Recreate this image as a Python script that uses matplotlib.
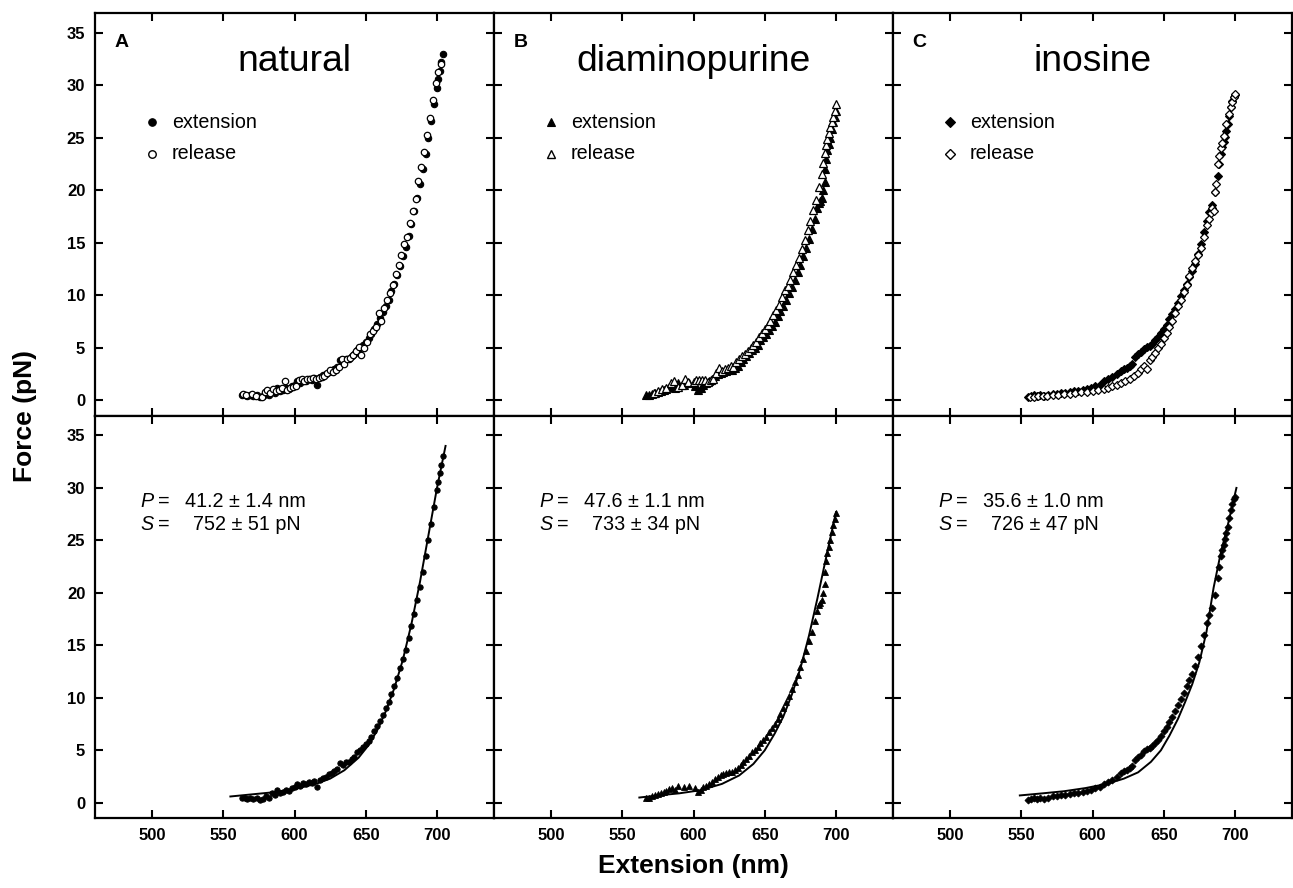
import matplotlib
matplotlib.use("Agg")
import matplotlib.pyplot as plt

plt.rcParams['font.family'] = ['Liberation Sans', 'DejaVu Sans']

# ---------------- data (extension in nm, force in pN) ----------------
nat_ext_x = [563, 565, 567, 569, 571, 574, 576, 578, 580, 582, 584, 586, 588, 590, 592, 594, 596, 598, 600, 602,
             604, 606, 608, 610, 612, 614, 616, 618, 620, 622, 624, 626, 628, 630, 632, 634, 636, 638, 640, 642,
             644, 646, 648, 650, 652, 654, 656, 658, 660, 662, 664, 666, 668, 670, 672, 674, 676, 678, 680, 682,
             684, 686, 688, 690, 692, 694, 696, 698, 700, 701, 702, 703, 704]
nat_ext_y = [0.5, 0.5, 0.4, 0.5, 0.4, 0.5, 0.3, 0.4, 0.6, 0.5, 0.9, 0.7, 1.2, 0.9, 1.0, 1.2, 1.1, 1.4, 1.5, 1.8,
             1.6, 1.9, 1.8, 2.0, 1.9, 2.1, 1.5, 2.2, 2.4, 2.5, 2.7, 2.8, 3.0, 3.2, 3.8, 3.6, 3.9, 3.9, 4.2, 4.4,
             4.8, 5.0, 5.3, 5.6, 5.9, 6.3, 6.8, 7.3, 7.8, 8.4, 9.0, 9.6, 10.4, 11.1, 11.9, 12.8, 13.7, 14.6, 15.7, 16.8,
             18.0, 19.3, 20.6, 22.0, 23.5, 25.0, 26.6, 28.2, 29.8, 30.6, 31.4, 32.2, 33.0]
nat_rel_x = [564, 566, 570, 573, 577, 579, 581, 583, 585, 587, 589, 591, 593, 595, 597, 599, 601, 603, 605, 607,
             609, 611, 613, 615, 617, 619, 621, 623, 625, 627, 629, 631, 633, 635, 637, 639, 641, 643, 645, 647,
             649, 651, 653, 655, 657, 659, 661, 663, 665, 667, 669, 671, 673, 675, 677, 679, 681, 683, 685, 687,
             689, 691, 693, 695, 697, 699, 701, 703]
nat_rel_y = [0.6, 0.5, 0.6, 0.4, 0.3, 0.8, 1.0, 0.7, 1.1, 0.9, 1.0, 1.2, 1.8, 1.0, 1.2, 1.3, 1.4, 1.9, 2.0, 1.8,
             2.0, 2.0, 2.1, 2.0, 2.1, 2.2, 2.3, 2.6, 2.9, 2.7, 2.9, 3.2, 3.9, 3.5, 3.9, 4.0, 4.3, 4.7, 5.1, 4.3,
             5.0, 5.6, 6.3, 6.6, 7.0, 8.3, 7.6, 8.8, 9.6, 10.2, 11.0, 12.0, 12.9, 13.8, 14.9, 15.6, 16.9, 18.0, 19.2, 20.9,
             22.2, 23.7, 25.3, 26.9, 28.6, 30.2, 31.3, 32.0]

dia_ext_x = [567, 569, 571, 573, 575, 577, 579, 581, 583, 585, 587, 589, 593, 597, 601, 603, 605, 607, 609, 611,
             613, 615, 617, 619, 621, 623, 625, 627, 629, 631, 633, 635, 637, 639, 641, 643, 645, 647, 649, 651,
             653, 655, 657, 659, 661, 663, 665, 667, 669, 671, 673, 675, 677, 679, 681, 683, 685, 687, 688, 689,
             690, 691, 692, 692.5, 693, 694, 695, 696, 697, 698, 699, 700]
dia_ext_y = [0.5, 0.5, 0.6, 0.7, 0.8, 0.9, 1.0, 1.1, 1.3, 1.4, 1.2, 1.6, 1.5, 1.6, 1.4, 1.0, 1.2, 1.5, 1.6, 1.8,
             2.0, 2.3, 2.5, 2.6, 2.7, 2.8, 2.9, 2.9, 3.1, 3.3, 3.6, 3.9, 4.2, 4.5, 4.8, 5.0, 5.3, 5.7, 6.0, 6.3,
             6.7, 7.1, 7.5, 8.0, 8.5, 9.0, 9.6, 10.2, 10.8, 11.5, 12.2, 12.9, 13.7, 14.5, 15.4, 16.3, 17.3, 18.3, 18.8, 19.0,
             19.3, 20.0, 20.8, 22.0, 23.0, 23.8, 24.4, 25.0, 25.8, 26.5, 27.0, 27.6]
dia_rel_x = [572, 575, 578, 581, 584, 586, 589, 592, 594, 596, 600, 602, 604, 606, 608, 610, 612, 614, 616, 618,
             620, 622, 624, 626, 628, 630, 632, 634, 636, 638, 640, 642, 644, 646, 648, 650, 652, 654, 656, 658,
             660, 662, 664, 666, 668, 670, 672, 674, 676, 678, 680, 682, 684, 686, 688, 690, 691, 692, 693, 694,
             695, 696, 697, 698, 699, 700]
dia_rel_y = [0.7, 0.9, 1.1, 1.2, 1.6, 1.8, 1.3, 1.5, 2.0, 1.7, 1.7, 1.9, 1.9, 1.9, 1.9, 1.7, 1.9, 2.0, 2.6, 3.1,
             2.8, 3.0, 3.1, 3.3, 3.2, 3.6, 3.9, 4.2, 4.4, 4.7, 5.0, 5.3, 5.6, 6.0, 6.4, 6.8, 7.2, 7.6, 8.1, 8.6,
             9.1, 9.8, 10.5, 10.9, 11.5, 12.2, 12.9, 13.6, 14.4, 15.3, 16.2, 17.1, 18.1, 19.1, 20.3, 21.6, 22.6, 23.6, 24.3, 24.9,
             25.5, 26.0, 26.5, 27.0, 27.6, 28.2]

ino_ext_x = [555, 557, 559, 561, 563, 566, 569, 572, 575, 578, 581, 584, 587, 590, 593, 596, 599, 602, 605, 608,
             611, 614, 617, 620, 622, 624, 626, 628, 630, 632, 634, 636, 638, 640, 642, 644, 646, 648, 650, 652,
             654, 656, 658, 660, 662, 664, 666, 668, 670, 672, 674, 676, 678, 680, 682, 684, 686, 688, 689, 690,
             691, 692, 693, 694, 695, 696, 697, 698, 699, 700]
ino_ext_y = [0.3, 0.4, 0.5, 0.4, 0.5, 0.4, 0.5, 0.6, 0.6, 0.7, 0.7, 0.8, 0.9, 0.9, 1.0, 1.1, 1.2, 1.4, 1.5, 1.8,
             2.0, 2.2, 2.5, 2.8, 3.0, 3.1, 3.3, 3.5, 4.1, 4.4, 4.6, 4.9, 5.1, 5.2, 5.4, 5.7, 6.0, 6.4, 6.8, 7.2,
             7.7, 8.2, 8.7, 9.3, 9.9, 10.5, 11.1, 11.7, 12.3, 13.0, 13.9, 14.9, 16.0, 17.1, 17.9, 18.6, 19.8, 21.4, 22.5, 23.5,
             24.1, 24.6, 25.1, 25.7, 26.3, 27.1, 27.9, 28.5, 28.9, 29.1]
ino_rel_x = [556, 559, 562, 565, 568, 572, 576, 580, 584, 588, 592, 596, 600, 604, 608, 611, 614, 617, 620, 623,
             626, 629, 632, 634, 636, 638, 640, 642, 644, 646, 648, 650, 652, 654, 656, 658, 660, 662, 664, 666,
             668, 670, 672, 674, 676, 678, 680, 682, 683, 684, 685, 686, 687, 688, 689, 690, 691, 692, 694, 696,
             697, 698, 699, 700]
ino_rel_y = [0.3, 0.3, 0.4, 0.4, 0.4, 0.5, 0.5, 0.6, 0.6, 0.7, 0.8, 0.8, 0.9, 1.0, 1.1, 1.2, 1.4, 1.5, 1.6, 1.8,
             2.0, 2.3, 2.6, 3.0, 3.3, 3.0, 3.8, 4.1, 4.5, 5.0, 5.4, 5.9, 6.4, 7.0, 7.6, 8.3, 9.0, 9.6, 10.3, 11.0,
             11.8, 12.6, 13.3, 13.8, 14.5, 15.6, 16.7, 17.3, 17.8, 18.3, 18.0, 19.8, 20.6, 22.5, 23.3, 24.0, 24.5, 25.2, 26.3, 27.3,
             27.9, 28.4, 28.9, 29.2]

fit_nat_x = [555, 570, 585, 600, 615, 625, 635, 645, 652, 658, 664, 670, 676, 682, 688, 694, 700, 706]
fit_nat_y = [0.6, 0.8, 1.0, 1.3, 1.8, 2.3, 3.1, 4.3, 5.5, 6.9, 8.7, 10.9, 13.6, 17.0, 21.0, 25.5, 30.0, 34.0]
fit_dia_x = [562, 575, 590, 605, 620, 632, 642, 650, 657, 663, 669, 675, 681, 687, 692, 696, 700]
fit_dia_y = [0.5, 0.7, 0.9, 1.2, 1.8, 2.6, 3.7, 5.0, 6.6, 8.2, 10.3, 12.8, 15.9, 19.5, 22.7, 25.2, 27.7]
fit_ino_x = [549, 565, 580, 595, 610, 622, 632, 641, 648, 654, 660, 665, 670, 675, 680, 685, 690, 695, 701]
fit_ino_y = [0.7, 0.9, 1.1, 1.4, 1.8, 2.3, 2.9, 3.9, 5.0, 6.4, 8.0, 9.6, 11.3, 13.4, 16.3, 20.5, 23.8, 26.5, 30.0]

panel_letters = ["A", "B", "C"]
panel_titles = ["natural", "diaminopurine", "inosine"]
markers = ["o", "^", "D"]
msizes = [4.6, 5.6, 4.2]
P_vals = ["41.2 \u00b1 1.4 nm", "47.6 \u00b1 1.1 nm", "35.6 \u00b1 1.0 nm"]
S_vals = ["752 \u00b1 51 pN", "733 \u00b1 34 pN", "726 \u00b1 47 pN"]
x_ticks = [500, 550, 600, 650, 700]
y_ticks = [0, 5, 10, 15, 20, 25, 30, 35]

ext_data = [(nat_ext_x, nat_ext_y), (dia_ext_x, dia_ext_y), (ino_ext_x, ino_ext_y)]
rel_data = [(nat_rel_x, nat_rel_y), (dia_rel_x, dia_rel_y), (ino_rel_x, ino_rel_y)]
fit_data = [(fit_nat_x, fit_nat_y), (fit_dia_x, fit_dia_y), (fit_ino_x, fit_ino_y)]

# ---------------- figure ----------------
fig = plt.figure(figsize=(12.93, 8.88), dpi=100)
left, right, bottom, top = 95 / 1293, 1292 / 1293, 1 - 818 / 888, 1 - 13 / 888
gs = fig.add_gridspec(2, 3, left=left, right=right, bottom=bottom, top=top, wspace=0, hspace=0)

FS = 14.2
for row in range(2):
    for col in range(3):
        ax = fig.add_subplot(gs[row, col])
        ax.set_xlim(460, 740)
        ax.set_ylim(-1.45, 36.9)
        ax.set_xticks(x_ticks)
        ax.set_yticks(y_ticks)
        ax.tick_params(direction='in', length=6, width=1.5, top=True, right=True,
                       labelsize=12, pad=7)
        for lab in ax.get_xticklabels() + ax.get_yticklabels():
            lab.set_fontweight('bold')
        for s in ax.spines.values():
            s.set_linewidth(1.6)
        if col != 0:
            ax.tick_params(labelleft=False)
        if row != 1:
            ax.tick_params(labelbottom=False)

        mk = markers[col]
        ms = msizes[col]
        ex, ey = ext_data[col]
        if row == 0:
            rx, ry = rel_data[col]
            ax.plot(ex, ey, ls='none', marker=mk, ms=ms, mfc='black', mec='black', mew=0.8)
            ax.plot(rx, ry, ls='none', marker=mk, ms=ms, mfc='white', mec='black', mew=0.9)
            ax.text(478.5, 34.1, panel_letters[col], fontsize=14, fontweight='bold',
                    ha='center', va='center')
            ax.text(600, 31.4, panel_titles[col], fontsize=26.8, ha='center', va='baseline')
            # manual legend
            ax.plot([500], [26.5], ls='none', marker=mk, ms=ms + 0.8, mfc='black', mec='black', mew=0.8)
            ax.plot([500], [23.5], ls='none', marker=mk, ms=ms + 0.8, mfc='white', mec='black', mew=1.0)
            ax.text(514, 26.5, "extension", fontsize=FS, va='center', ha='left')
            ax.text(514, 23.5, "release", fontsize=FS, va='center', ha='left')
        else:
            fx, fy = fit_data[col]
            ax.plot(ex, ey, ls='none', marker=mk, ms=ms * 0.85, mfc='black', mec='black', mew=0.6)
            ax.plot(fx, fy, color='black', lw=1.4)
            ax.text(492, 28.2, "P", fontsize=FS, style='italic', ha='left', va='baseline')
            ax.text(504.5, 28.2, "=", fontsize=FS, ha='left', va='baseline')
            ax.text(492, 26.0, "S", fontsize=FS, style='italic', ha='left', va='baseline')
            ax.text(504.5, 26.0, "=", fontsize=FS, ha='left', va='baseline')
            ax.text(523.5, 28.2, P_vals[col], fontsize=FS, ha='left', va='baseline')
            ax.text(528.5, 26.0, S_vals[col], fontsize=FS, ha='left', va='baseline')

fig.text(0.019, (bottom + top) / 2, "Force (pN)", rotation=90, fontsize=19, fontweight='bold',
         ha='center', va='center')
fig.text((left + right) / 2, 1 - 866 / 888, "Extension (nm)", fontsize=19, fontweight='bold',
         ha='center', va='center')

fig.savefig("out.png", dpi=100)
